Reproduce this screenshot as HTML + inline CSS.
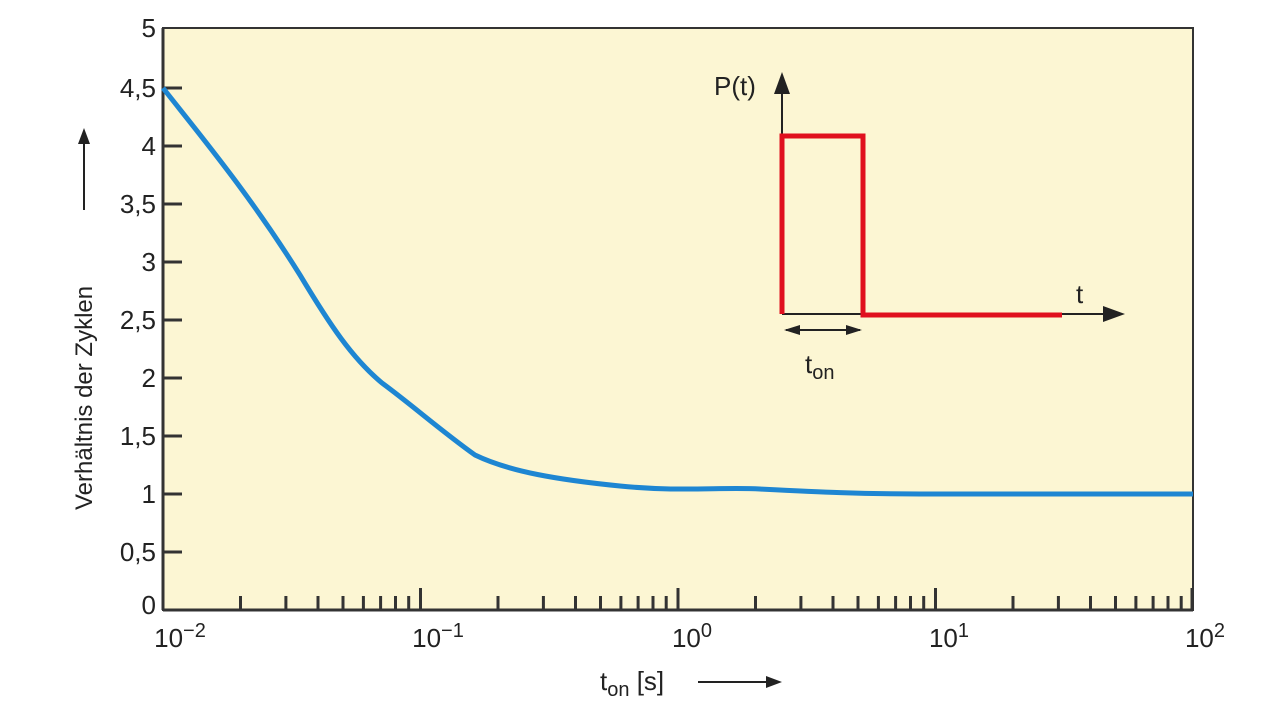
<!DOCTYPE html>
<html><head><style>body{margin:0;background:#fff}svg{display:block}</style></head><body>
<svg width="1280" height="718" xmlns="http://www.w3.org/2000/svg" font-family="Liberation Sans, sans-serif" fill="#222">
<rect x="163" y="28" width="1030" height="582" fill="#fcf6d3" stroke="#333" stroke-width="2"/>
<line x1="163" y1="28" x2="163" y2="610" stroke="#333" stroke-width="3"/>
<line x1="163" y1="610" x2="1193" y2="610" stroke="#333" stroke-width="3"/>
<g stroke="#333" stroke-width="3">
<line x1="163" y1="88" x2="182" y2="88"/><line x1="163" y1="146" x2="182" y2="146"/><line x1="163" y1="204" x2="182" y2="204"/><line x1="163" y1="262" x2="182" y2="262"/><line x1="163" y1="320" x2="182" y2="320"/><line x1="163" y1="378" x2="182" y2="378"/><line x1="163" y1="436" x2="182" y2="436"/><line x1="163" y1="494" x2="182" y2="494"/><line x1="163" y1="552" x2="182" y2="552"/>
</g>
<path stroke="#333" stroke-width="3" fill="none" d="
M240.5,596V610 M285.9,596V610 M318,596V610 M343,596V610 M363.4,596V610 M380.6,596V610 M395.5,596V610 M408.7,596V610 M420.5,588V610
M498,596V610 M543.4,596V610 M575.5,596V610 M600.5,596V610 M620.9,596V610 M638.1,596V610 M653,596V610 M666.2,596V610 M678,588V610
M755.5,596V610 M800.9,596V610 M833,596V610 M858,596V610 M878.4,596V610 M895.6,596V610 M910.5,596V610 M923.7,596V610 M935.5,588V610
M1013,596V610 M1058.4,596V610 M1090.5,596V610 M1115.5,596V610 M1135.9,596V610 M1153.1,596V610 M1168,596V610 M1181.2,596V610 M1192,588V610"/>
<g font-size="26" text-anchor="end">
<text x="156" y="37">5</text><text x="156" y="97">4,5</text><text x="156" y="155">4</text><text x="156" y="213">3,5</text><text x="156" y="271">3</text><text x="156" y="329">2,5</text><text x="156" y="387">2</text><text x="156" y="445">1,5</text><text x="156" y="503">1</text><text x="156" y="561">0,5</text><text x="156" y="614">0</text>
</g>
<g font-size="26" text-anchor="middle">
<text x="180" y="647">10<tspan dy="-10" font-size="20">−2</tspan></text>
<text x="438" y="647">10<tspan dy="-10" font-size="20">−1</tspan></text>
<text x="692" y="647">10<tspan dy="-10" font-size="20">0</tspan></text>
<text x="949" y="647">10<tspan dy="-10" font-size="20">1</tspan></text>
<text x="1205" y="647">10<tspan dy="-10" font-size="20">2</tspan></text>
</g>
<text x="600" y="690" font-size="26">t<tspan font-size="20" dy="6">on</tspan><tspan dy="-6"> [s]</tspan></text>
<line x1="698" y1="682" x2="770" y2="682" stroke="#222" stroke-width="2"/><polygon points="782,682 766,676 766,688" fill="#222"/>
<text transform="translate(92,510) rotate(-90)" font-size="24">Verhältnis der Zyklen</text>
<line x1="84" y1="210" x2="84" y2="140" stroke="#222" stroke-width="2"/><polygon points="84,128 78,144 90,144" fill="#222"/>
<path d="M163,88 C200,135 250,195 300,275 C330,325 352,358 382,383 C412,405 440,430 475,455 C510,472 560,480 620,486 C680,492 720,487 760,489 C820,492 860,494 920,494 L1193,494" fill="none" stroke="#1e86d2" stroke-width="5"/>
<line x1="782" y1="314" x2="1110" y2="314" stroke="#222" stroke-width="2"/><polygon points="1125,314 1103,306 1103,322" fill="#222"/>
<line x1="782" y1="314" x2="782" y2="88" stroke="#222" stroke-width="2"/><polygon points="782,72 774,94 790,94" fill="#222"/>
<polyline points="782,314 782,136 863,136 863,315 1062,315" fill="none" stroke="#e0101e" stroke-width="5"/>
<line x1="786" y1="330" x2="860" y2="330" stroke="#222" stroke-width="2"/><polygon points="784,330 800,325 800,335" fill="#222"/><polygon points="862,330 846,325 846,335" fill="#222"/>
<text x="805" y="373" font-size="26">t<tspan font-size="20" dy="6">on</tspan></text>
<text x="714" y="95" font-size="26">P(t)</text>
<text x="1076" y="303" font-size="26">t</text>
</svg>
</body></html>
